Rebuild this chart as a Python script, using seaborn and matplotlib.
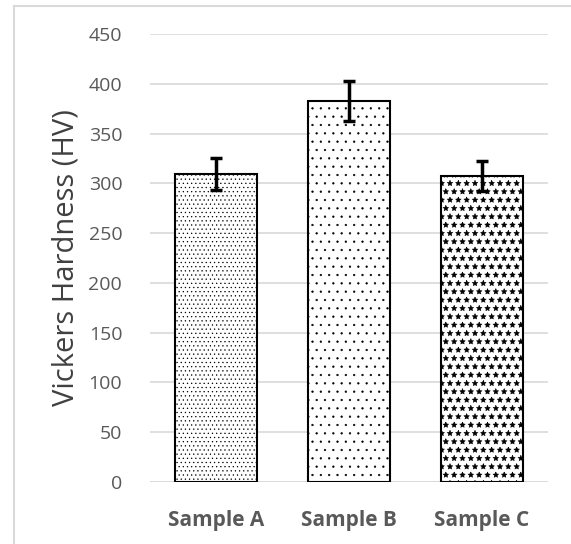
import matplotlib
matplotlib.use("Agg")
import matplotlib.pyplot as plt
import seaborn as sns
import pandas as pd
from matplotlib.patches import Rectangle

samples = ["Sample A", "Sample B", "Sample C"]
hardness = [309, 383, 307]
errors = [16, 20, 15]
hatches = ["....", "..", "**"]

sns.set_theme(style="white")
plt.rcParams["font.family"] = ["Open Sans", "DejaVu Sans"]
plt.rcParams["hatch.linewidth"] = 0.4

df = pd.DataFrame({"sample": samples, "hv": hardness})

fig = plt.figure(figsize=(5.71, 5.44), dpi=100)
ax = fig.add_axes([0.2627, 0.114, 0.697, 0.8235])

sns.barplot(data=df, x="sample", y="hv", color="white", edgecolor="black",
            linewidth=1.5, width=0.62, errorbar=None, ax=ax)
for bar, h in zip(ax.patches, hatches):
    bar.set_hatch(h)

ax.errorbar(range(len(samples)), hardness, yerr=errors, fmt="none",
            ecolor="black", elinewidth=2.5, capsize=4.5, capthick=2.5, zorder=5)

ax.set_ylim(0, 450)
ax.set_xlim(-0.5, 2.5)
ax.set_yticks(range(0, 451, 50))
ax.yaxis.grid(True, color="#d9d9d9", linewidth=1.2)
ax.set_axisbelow(True)
for s in ax.spines.values():
    s.set_visible(False)
ax.axhline(0, color="#d9d9d9", linewidth=1.2, zorder=0)

ax.tick_params(axis="y", length=0, pad=20, labelsize=14, labelcolor="#595959")
ax.tick_params(axis="x", length=0, pad=20, labelsize=15, labelcolor="#595959")
for lab in ax.get_xticklabels():
    lab.set_fontweight("bold")

ax.set_xlabel("")
ax.set_ylabel("Vickers Hardness (HV)", fontsize=21, color="#404040", labelpad=6)

fig.patches.append(Rectangle((14 / 571, -0.1), 1.2, 1.1 - 6 / 544,
                             transform=fig.transFigure, fill=False,
                             edgecolor="#d9d9d9", linewidth=1.5))

fig.savefig("out.png", dpi=100)
